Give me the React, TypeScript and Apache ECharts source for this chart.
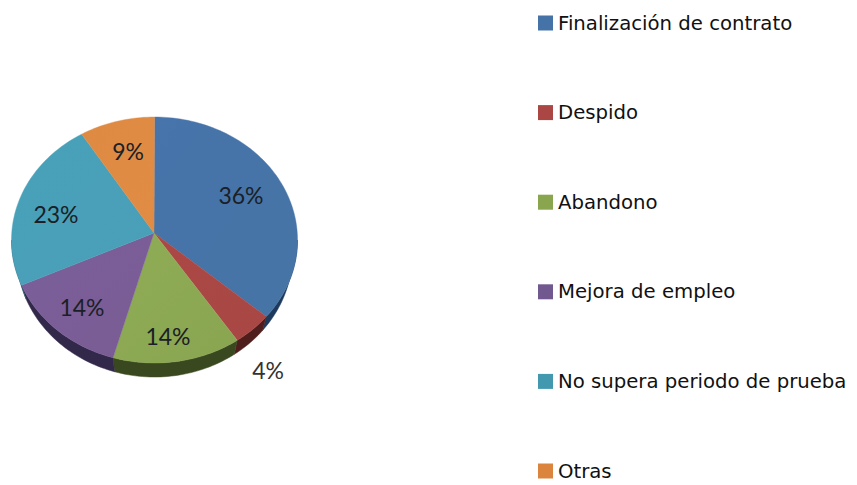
import React, { useEffect, useRef } from "react";
import * as echarts from "echarts";

const categories = [
  "Finalización de contrato",
  "Despido",
  "Abandono",
  "Mejora de empleo",
  "No supera periodo de prueba",
  "Otras",
];
const shares = [35.7, 4.49, 14.49, 14.32, 22.5, 8.5];

const topColors = ["#4674ab", "#ab4845", "#8fac55", "#7b5f9b", "#48a1b9", "#df8a43"];
const topShade = ["#4674a5", "#a84744", "#89a551", "#7a5c93", "#4a9fb8", "#e08c45"];
const wallColors = ["#1d3a5c", "#4f1e1c", "#3a4820", "#32284a", "#27586a", "#7a4a20"];
const legendColors = ["#4572a7", "#aa4643", "#89a54e", "#71588f", "#4198af", "#db843d"];
const labelAnchors = [
  [0.605, -0.366],
  [0.794, 1.057],
  [0.094, 0.78],
  [-0.507, 0.545],
  [-0.689, -0.211],
  [-0.185, -0.724],
];

const total = shares.reduce((a, b) => a + b, 0);
const TOP = { cx: 154.5, cy: 240, rx: 143, ry: 123 };
const APEX = [154, 233];
const BOTTOM = { cx: 154.5, cy: 254, rx: 138, ry: 123 };

const onEllipse = (e: typeof TOP, turn: number) => {
  const a = turn * Math.PI * 2;
  return [e.cx + e.rx * Math.sin(a), e.cy - e.ry * Math.cos(a)];
};

const sampleArc = (e: typeof TOP, from: number, to: number) => {
  const n = Math.max(2, Math.ceil((to - from) * 240));
  const pts: number[][] = [];
  for (let i = 0; i <= n; i++) pts.push(onEllipse(e, from + ((to - from) * i) / n));
  return pts;
};

const makeRenderer = (index: number) => (_params: any, api: any) => {
  const value = api.value(0);
  const before = shares.slice(0, index).reduce((a, b) => a + b, 0);
  const from = before / total;
  const to = (before + value) / total;
  const children: any[] = [];

  const wallFrom = Math.max(from, 0.25);
  const wallTo = Math.min(to, 0.75);
  if (wallTo > wallFrom) {
    const outer = sampleArc(TOP, wallFrom, wallTo);
    const lower = sampleArc(BOTTOM, wallFrom, wallTo).reverse();
    children.push({
      type: "polygon",
      z2: 1,
      shape: { points: [...outer, ...lower] },
      style: { fill: wallColors[index], stroke: wallColors[index], lineWidth: 0.5 },
    });
  }

  children.push({
    type: "polygon",
    z2: 2,
    shape: { points: [APEX, ...sampleArc(TOP, from, to)] },
    style: {
      fill: new echarts.graphic.LinearGradient(0, 0, 1, 1, [
        { offset: 0, color: topColors[index] },
        { offset: 1, color: topShade[index] },
      ]),
      stroke: topColors[index],
      lineWidth: 0.4,
    },
  });

  const [ux, uy] = labelAnchors[index];
  children.push({
    type: "text",
    z2: 3,
    style: {
      x: TOP.cx + TOP.rx * ux,
      y: TOP.cy + TOP.ry * uy,
      text: `${Math.round(value)}%`,
      font: '23px "Lato", "Open Sans", sans-serif',
      fill: index === 1 ? "#333333" : "#1a2026",
      align: "center",
      verticalAlign: "middle",
    },
  });

  return { type: "group", children };
};

export default function App() {
  const ref = useRef<HTMLDivElement>(null);

  useEffect(() => {
    const chart = echarts.init(ref.current!, undefined, { renderer: "svg" });
    chart.setOption({
      animation: false,
      backgroundColor: "#ffffff",
      legend: {
        orient: "vertical",
        left: 538,
        top: 13,
        padding: 0,
        icon: "rect",
        itemWidth: 15,
        itemHeight: 15,
        itemGap: 69.6,
        selectedMode: false,
        data: categories,
        textStyle: {
          fontFamily: '"DejaVu Sans", sans-serif',
          fontSize: 19.7,
          lineHeight: 20,
          color: "#111111",
        },
      },
      series: categories.map((name, i) => ({
        type: "custom",
        name,
        coordinateSystem: "none",
        silent: true,
        itemStyle: { color: legendColors[i] },
        renderItem: makeRenderer(i),
        data: [[shares[i]]],
      })),
    });
    return () => chart.dispose();
  }, []);

  return <div ref={ref} style={{ position: "fixed", left: 0, top: 0, width: 857, height: 485 }} />;
}
